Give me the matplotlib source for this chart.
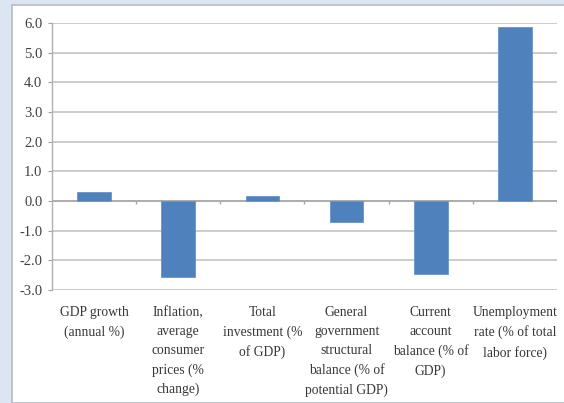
import matplotlib.pyplot as plt
from matplotlib.patches import Rectangle

categories = [
    "GDP growth\n(annual %)",
    "Inflation,\naverage\nconsumer\nprices (%\nchange)",
    "Total\ninvestment (%\nof GDP)",
    "General\ngovernment\nstructural\nbalance (% of\npotential GDP)",
    "Current\naccount\nbalance (% of\nGDP)",
    "Unemployment\nrate (% of total\nlabor force)",
]
values = [0.3, -2.57, 0.17, -0.7, -2.46, 5.86]
yticks = [-3, -2, -1, 0, 1, 2, 3, 4, 5, 6]

plt.rcParams['font.family'] = ['Liberation Serif', 'DejaVu Serif']

fig = plt.figure(figsize=(5.64, 4.03), dpi=100, facecolor='#dce6f2')
# white chart area with a thin grey frame
fig.patches.append(Rectangle((11.5 / 564, 0), 1, 1 - 4.5 / 403, transform=fig.transFigure,
                             facecolor='white', edgecolor='#b8bcc2', linewidth=1.2, zorder=-10))

ax = fig.add_axes([52 / 564, 1 - 290 / 403, (557 - 52) / 564, (290 - 23) / 403])
ax.set_facecolor('none')

x = list(range(len(values)))
ax.bar(x, values, width=0.4, color='#4f81bd', edgecolor='#6a94c8', linewidth=0.6, zorder=3)

ax.set_xlim(-0.5, len(values) - 0.5)
ax.set_ylim(-3, 6)
ax.set_yticks(yticks)
ax.set_yticklabels([f"{v:.1f}" for v in yticks], fontsize=10.5, color='#404040')
ax.yaxis.grid(True, color='#c8c8c8', linewidth=1.3, zorder=0)
ax.tick_params(axis='y', length=3, color='#a0a0a0', pad=4)

ax.set_xticks(x)
ax.set_xticklabels(categories, fontsize=9.8, color='#383838', linespacing=1.6, va='top')
ax.tick_params(axis='x', length=0, pad=11.5)

# category axis at zero with small tick marks between categories
ax.axhline(0, color='#a8a8a8', linewidth=1.2, zorder=2)
ax.vlines([i + 0.5 for i in range(len(values))], -0.1, 0, color='#a8a8a8', linewidth=1.0, zorder=2)

for s in ['top', 'right', 'bottom']:
    ax.spines[s].set_visible(False)
ax.spines['left'].set_color('#b0b0b0')
ax.spines['left'].set_linewidth(1.0)

fig.savefig("out.png", dpi=100, facecolor=fig.get_facecolor())
